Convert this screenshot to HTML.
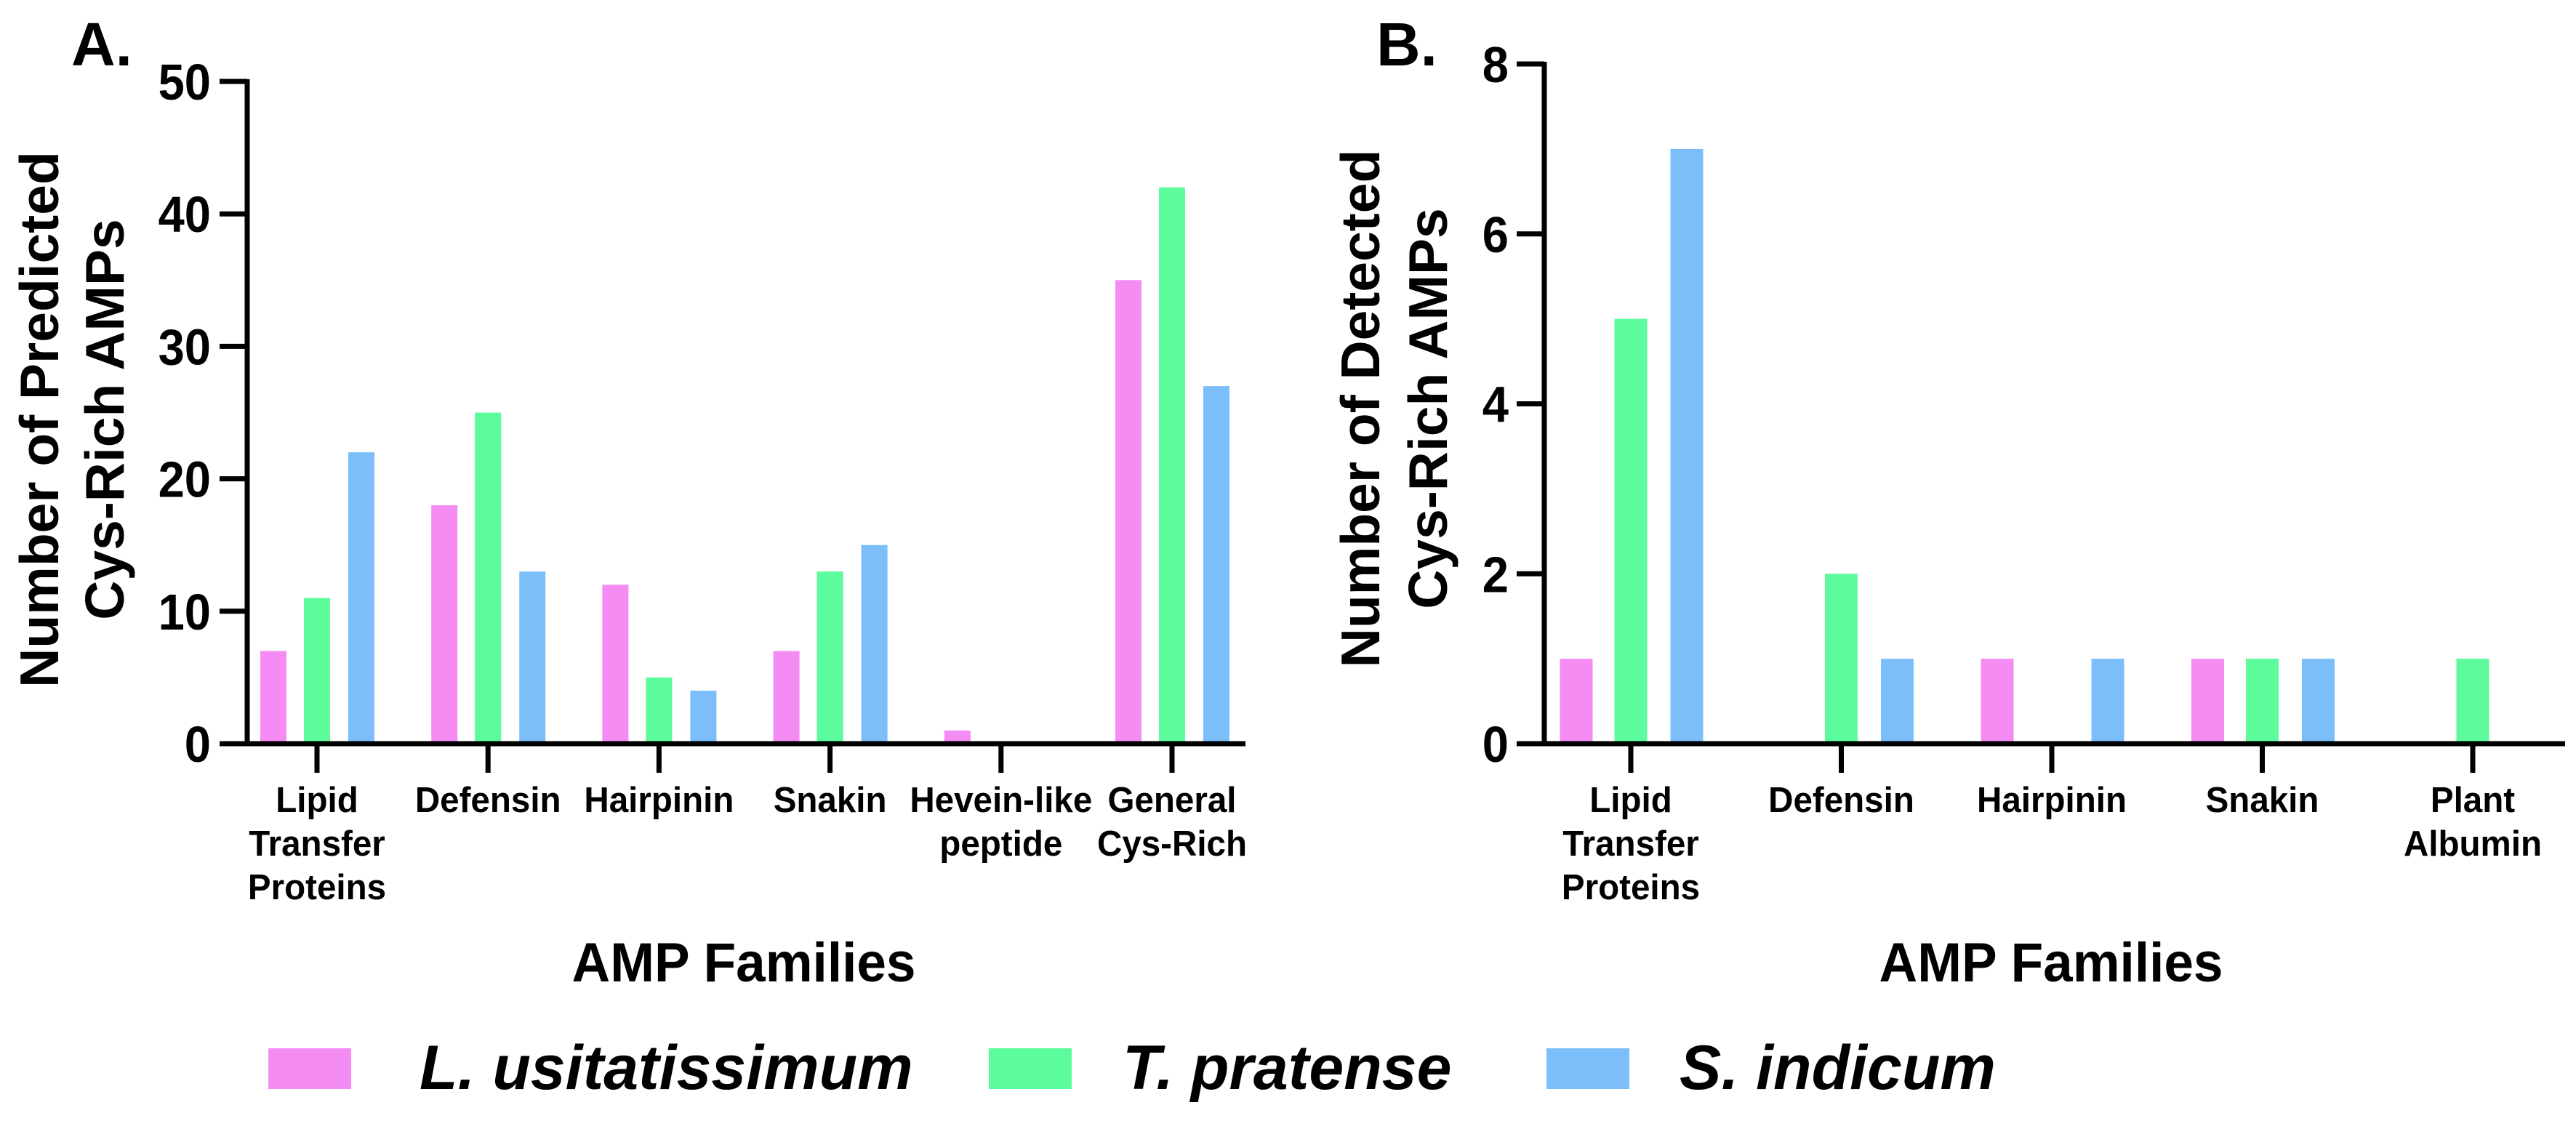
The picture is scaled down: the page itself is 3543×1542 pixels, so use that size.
<!DOCTYPE html>
<html><head><meta charset="utf-8"><style>
html,body{margin:0;padding:0;background:#fff;}
svg{display:block;font-family:"Liberation Sans",Arial,sans-serif;font-weight:bold;}
</style></head><body>
<svg id="c" width="3543" height="1542" viewBox="0 0 3543 1542" xmlns="http://www.w3.org/2000/svg"></svg>
<script>
const catsA = [["Lipid","Transfer","Proteins"],["Defensin"],["Hairpinin"],["Snakin"],["Hevein-like","peptide"],["General","Cys-Rich"]];
const linA = [7,18,12,7,1,35];
const triA = [11,25,5,13,0,42];
const sesA = [22,13,4,15,0,27];
const ticksA = [0,10,20,30,40,50];
const catsB = [["Lipid","Transfer","Proteins"],["Defensin"],["Hairpinin"],["Snakin"],["Plant","Albumin"]];
const linB = [1,0,1,1,0];
const triB = [5,2,0,1,1];
const sesB = [7,1,1,1,0];
const ticksB = [0,2,4,6,8];
const seriesNames = ["L. usitatissimum","T. pratense","S. indicum"];
const colors = ["#f48cf4","#5cfc9c","#7cbef9"];

const NS = "http://www.w3.org/2000/svg";
const svg = document.getElementById('c');
function mk(tag, attrs, parent){const e=document.createElementNS(NS,tag);for(const k in attrs)e.setAttribute(k,attrs[k]);(parent||svg).appendChild(e);return e;}
function txt(s, x, y, size, anchor, sx, parent, italic){
  const g=mk('g',{transform:`translate(${x},${y}) scale(${sx},1)`},parent);
  const t=mk('text',{x:0,y:0,'font-size':size,'text-anchor':anchor},g);
  if(italic)t.setAttribute('font-style','italic');
  t.textContent=s;return t;
}

function panel(o){
  const g=mk('g',{});
  
  
  const y=v=>o.y0-(v/o.ymax)*(o.y0-o.ytop);
  const x=i=>o.x0c+i*o.step;
  const ser=[o.L,o.T,o.S];
  ser.forEach((arr,si)=>{
    arr.forEach((v,i)=>{
      if(v<=0)return;
      const r=mk('rect',{x:x(i)+o.offs[si]-o.bw/2,y:y(v),width:o.bw,height:o.y0-y(v),fill:colors[si]},g);
      
      
    });
  });
  const ya=mk('line',{x1:o.ax,y1:o.ytop-3,x2:o.ax,y2:o.y0+3,stroke:'#000','stroke-width':7},g);
  
  
  const xa=mk('line',{x1:o.ax-3,y1:o.y0,x2:o.xend,y2:o.y0,stroke:'#000','stroke-width':7},g);
  
  
  o.ticks.forEach(t=>{
    mk('line',{x1:o.ax-38,y1:y(t),x2:o.ax,y2:y(t),stroke:'#000','stroke-width':7},g);
    const l=txt(String(t),o.ylabR,y(t)+25,70,'end',0.93,g);
    
    
  });
  o.cats.forEach((c,i)=>{
    mk('line',{x1:x(i),y1:o.y0,x2:x(i),y2:o.y0+40,stroke:'#000','stroke-width':7},g);
    c.forEach((s,j)=>{
      const l=txt(s,x(i),1117+j*60,49,'middle',0.97,g);
      
      
    });
  });
  const tl=txt(o.label,o.labX,90,84,'start',1,g);
  
  
  const xt=txt('AMP Families',o.xtC,1350,76,'middle',0.96,g);
  
  
  o.ytitle.forEach((s,j)=>{
    const gg=mk('g',{transform:`translate(${o.ytX[j]},${o.ytY}) rotate(-90)`},g);
    const t=mk('text',{x:0,y:0,'font-size':75,'text-anchor':'middle'},gg);
    t.textContent=s;
    
    
  });
}

panel({name:'panel-a',L:linA,T:triA,S:sesA,cats:catsA,ticks:ticksA,ymax:50,y0:1023,ytop:112,ax:340,xend:1713,
  x0c:436,step:235.2,bw:36,offs:[-60,0,61],ylabR:290,label:'A.',labX:98,xtC:1023,
  ytitle:['Number of Predicted','Cys-Rich AMPs'],ytX:[80,170],ytY:577});
panel({name:'panel-b',L:linB,T:triB,S:sesB,cats:catsB,ticks:ticksB,ymax:8,y0:1023,ytop:88,ax:2124,xend:3528,
  x0c:2243,step:289.5,bw:45,offs:[-75,0,77],ylabR:2075,label:'B.',labX:1893,xtC:2821,
  ytitle:['Number of Detected','Cys-Rich  AMPs'],ytX:[1897,1990],ytY:562});

const legX=[369,1360,2127], legT=[577,1544,2310];
seriesNames.forEach((n,i)=>{
  const r=mk('rect',{x:legX[i],y:1442,width:114,height:56,fill:colors[i]});
  
  
  const t=txt(n,legT[i],1498,86,'start',1,null,true);
  
  
});
</script>
</body></html>
